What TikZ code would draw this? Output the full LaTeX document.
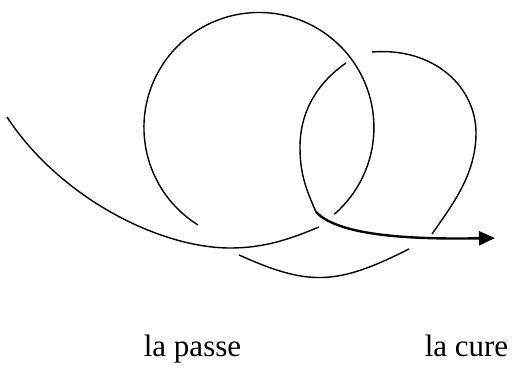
\documentclass[tikz,border=0pt]{standalone}
\usepackage{fontspec}
\setmainfont{Liberation Serif}
\usetikzlibrary{arrows.meta}
\tikzset{
  loopline/.style={line width=1.4pt},
  curearrow/.style={-{Triangle[length=16pt,width=14pt]}, line width=2.4pt},
  steplabel/.style={anchor=base, inner sep=0pt, font=\fontsize{31}{36}\selectfont}
}
\begin{document}
\begin{tikzpicture}[x=1pt,y=1pt]
  \useasboundingbox (0,0) rectangle (515,369);
  % incoming stroke
  \draw[loopline] (7,252) .. controls (60,171) and (160,121) .. (230,121)
    .. controls (265,121) and (290,130) .. (319,142);
  % big loop
  \draw[loopline] (198,144) arc[start angle=238, end angle=-49, radius=115];
  % inner loop
  \draw[loopline] (346,306) .. controls (320,288) and (300,260) .. (300,222)
    .. controls (300,195) and (306,180) .. (316,157);
  % right loop
  \draw[loopline] (372,317) .. controls (434,322) and (476,282) .. (476,236)
    .. controls (476,195) and (453,165) .. (432,135);
  % lower arc
  \draw[loopline] (239,114) .. controls (308,83) and (336,83) .. (409,120);
  % outgoing arrow
  \coordinate (start) at (316,157);
  \coordinate (tip) at (495,131);
  \draw[curearrow] (start) .. controls (335,137) and (390,129) .. (tip);
  % labels
  \node[steplabel] (passe) at (192.5,12) {la passe};
  \node[steplabel] (cure) at (466.5,12) {la cure};
\end{tikzpicture}
\end{document}
